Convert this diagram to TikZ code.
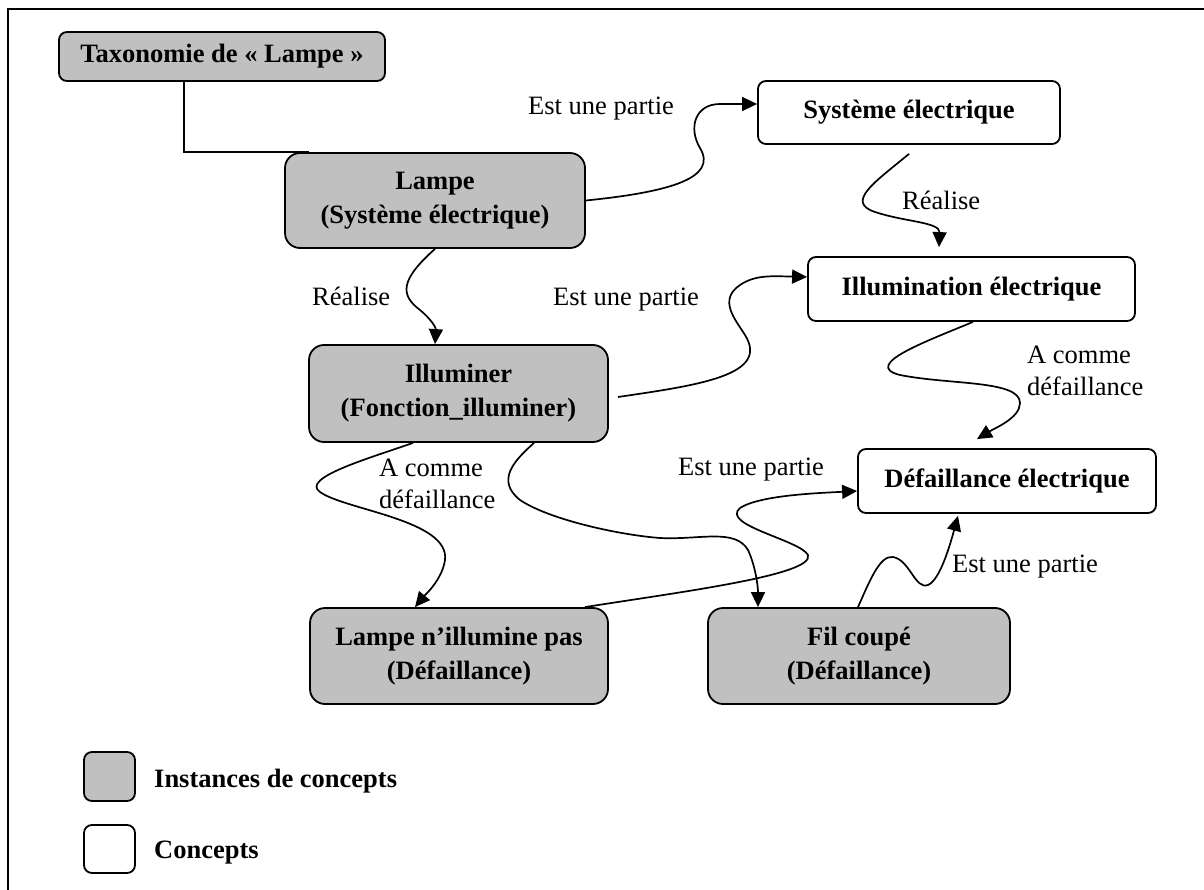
\documentclass[tikz,border=0pt]{standalone}
\usepackage{fontspec}
\setmainfont{Liberation Serif}
\usetikzlibrary{arrows.meta}
\definecolor{boxgray}{HTML}{C0C0C0}
\begin{document}
\begin{tikzpicture}[x=1pt,y=-1pt,
  inst/.style={draw, line width=1.8pt, fill=boxgray, rounded corners=15pt,
    align=center, inner sep=0pt, font=\bfseries\fontsize{26.5}{34}\selectfont},
  concept/.style={draw, line width=1.8pt, fill=white, rounded corners=8pt,
    align=center, inner sep=0pt, font=\bfseries\fontsize{26.5}{34}\selectfont},
  lbl/.style={anchor=base west, inner sep=0pt, align=left,
    font=\fontsize{26.5}{32}\selectfont},
  legtxt/.style={anchor=base west, inner sep=0pt,
    font=\bfseries\fontsize{26.5}{32}\selectfont},
  link/.style={line width=1.7pt, -{Triangle[length=15pt,width=14pt]}},
  plain/.style={line width=1.7pt},
]
\useasboundingbox (0,0) rectangle (1204,890);
\clip (0,0) rectangle (1204,890);
\fill[white] (0,0) rectangle (1204,890);

% outer frame
\draw[line width=2.4pt] (8,9) rectangle (1240,930);

% nodes
\node[inst, rounded corners=8pt, minimum width=326pt, minimum height=49pt] (tax) at (222,56.5) {Taxonomie de « Lampe »};
\node[inst, minimum width=300pt, minimum height=95pt] (lampe) at (435,200.5) {Lampe\\(Système électrique)};
\node[concept, minimum width=302pt, minimum height=63pt] (sys) at (909,112.5) {Système électrique};
\node[concept, minimum width=327pt, minimum height=64pt] (illum) at (971.5,289) {Illumination électrique};
\node[inst, minimum width=299pt, minimum height=97pt] (illuminer) at (458.5,393.5) {Illuminer\\(Fonction\_illuminer)};
\node[concept, minimum width=298pt, minimum height=64pt] (defel) at (1007,481) {Défaillance électrique};
\node[inst, minimum width=298pt, minimum height=96pt] (lnip) at (459,656) {Lampe n’illumine pas\\(Défaillance)};
\node[inst, minimum width=302pt, minimum height=96pt] (fil) at (859,656) {Fil coupé\\(Défaillance)};

% legend
\node[inst, rounded corners=8pt, minimum width=51pt, minimum height=49pt] (leginst) at (109.5,776.5) {};
\node[concept, minimum width=51pt, minimum height=48pt] (legconc) at (109.5,849) {};
\node[legtxt] (leginsttxt) at (154,787) {Instances de concepts};
\node[legtxt] (legconctxt) at (154,858) {Concepts};

% taxonomy link
\draw[plain] ([xshift=-38pt]tax.south) |- ([xshift=25pt]lampe.north west);

% Lampe -> Systeme electrique
\draw[link] (lampe.east) .. controls (670,192) and (718,178) .. (700,148)
  .. controls (688,128) and (695,104) .. (720,104) -- ([yshift=8.5pt]sys.west);
\node[lbl] (l1) at (528,115) {Est une partie};

% Lampe -> Illuminer
\draw[link] (lampe.south) .. controls (400,280) and (400,295) .. (420,310)
  .. controls (432,320) and (436,328) .. ([xshift=-23.5pt]illuminer.north);
\node[lbl] (l2) at (312,306) {Réalise};

% Systeme electrique -> Illumination electrique
\draw[link] ([yshift=-9pt]sys.south) .. controls (875,182) and (845,202) .. (875,212)
  .. controls (905,222) and (940,222) .. ([xshift=-32.5pt,yshift=9pt]illum.north);
\node[lbl] (l3) at (902,210) {Réalise};

% Illuminer -> Illumination electrique
\draw[link] ([xshift=9pt,yshift=-3.5pt]illuminer.east) .. controls (700,385) and (770,375) .. (745,335)
  .. controls (735,319) and (718,300) .. (740,285)
  .. controls (755,275) and (770,276) .. ([yshift=12pt]illum.west);
\node[lbl] (l4) at (553,306) {Est une partie};

% Illumination electrique -> Defaillance electrique
\draw[link] ([xshift=1.5pt]illum.south) .. controls (930,340) and (860,365) .. (900,375)
  .. controls (950,385) and (1020,380) .. (1020,403)
  .. controls (1020,418) and (995,428) .. ([xshift=-30pt,yshift=9pt]defel.north);
\node[lbl] (l5) at (1027,395) {A comme\\défaillance};

% Illuminer -> Lampe n'illumine pas
\draw[link] ([xshift=-45.5pt]illuminer.south) .. controls (370,458) and (300,478) .. (320,492)
  .. controls (345,510) and (450,520) .. (445,560)
  .. controls (442,580) and (425,595) .. ([xshift=-44pt]lnip.north);
\node[lbl] (l6) at (379,508) {A comme\\défaillance};

% Illuminer -> Fil coupe
\draw[link] ([xshift=75.5pt]illuminer.south) .. controls (515,460) and (495,480) .. (520,500)
  .. controls (550,520) and (620,535) .. (660,538)
  .. controls (700,540) and (735,528) .. (748,550)
  .. controls (755,565) and (758,585) .. ([xshift=-101pt]fil.north);

% Lampe n'illumine pas -> Defaillance electrique
\draw[link] ([xshift=126pt]lnip.north) .. controls (680,592) and (815,575) .. (808,555)
  .. controls (800,540) and (720,525) .. (740,508)
  .. controls (760,495) and (820,493) .. ([yshift=-10pt]defel.west);
\node[lbl] (l7) at (678,475) {Est une partie};

% Fil coupe -> Defaillance electrique
\draw[link] ([xshift=-1pt]fil.north) .. controls (870,580) and (880,555) .. (893,557)
  .. controls (910,560) and (915,590) .. (928,585)
  .. controls (940,580) and (950,545) .. ([xshift=-49pt,yshift=-2pt]defel.south);
\node[lbl] (l8) at (952,572) {Est une partie};
\end{tikzpicture}
\end{document}
